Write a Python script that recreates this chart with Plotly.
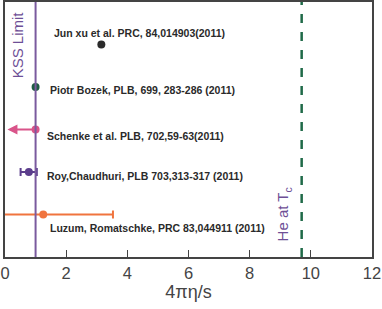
import plotly.graph_objects as go

# Data
labels = ["Jun xu et al. PRC, 84,014903(2011)",
          "Piotr Bozek, PLB, 699, 283-286 (2011)",
          "Schenke et al. PLB, 702,59-63(2011)",
          "Roy,Chaudhuri, PLB 703,313-317 (2011)",
          "Luzum, Romatschke, PRC 83,044911 (2011)"]
eta_s = [3.15, 1.0, 1.0, 0.78, 1.25]
ypos = [5, 4, 3, 2, 1]
err_plus = [0, 0, 0, 0.26, 2.28]
err_minus = [0, 0, 0, 0.27, 1.6]
colors = ["#2b2b2b", "#1f5a44", "#d9548a", "#5b3d8c", "#f0743e"]
kss_limit = 1.0
he_tc = 9.7
schenke_upper_limit_end = 0.08
x_ticks = [0, 2, 4, 6, 8, 10, 12]

FONT = "Liberation Sans, Arial, Helvetica"

fig = go.Figure()

# KSS vertical line
fig.add_shape(type="line", x0=kss_limit, x1=kss_limit, y0=0, y1=1, xref="x", yref="paper",
              line=dict(color="#7a5a9e", width=2))
# He at Tc dashed line
fig.add_shape(type="line", x0=he_tc, x1=he_tc, y0=0, y1=1, xref="x", yref="paper",
              line=dict(color="#1f6a48", width=2.5, dash="dash"))

for i in range(len(labels)):
    has_err = err_plus[i] > 0
    fig.add_trace(go.Scatter(
        x=[eta_s[i]], y=[ypos[i]], mode="markers",
        marker=dict(color=colors[i], size=8),
        error_x=dict(type="data", symmetric=False, array=[err_plus[i]],
                     arrayminus=[err_minus[i]], color=colors[i], thickness=2,
                     width=4, visible=has_err),
        showlegend=False, cliponaxis=True))

# Schenke upper-limit arrow
fig.add_annotation(x=schenke_upper_limit_end, y=ypos[2], ax=eta_s[2], ay=ypos[2],
                   xref="x", yref="y", axref="x", ayref="y", text="",
                   showarrow=True, arrowhead=2, arrowsize=1, arrowwidth=2,
                   arrowcolor=colors[2])

label_pos = [(1.53, 5.27), (1.40, 3.93), (1.30, 2.85), (1.30, 1.91), (1.40, 0.68)]
for lab, (lx, ly) in zip(labels, label_pos):
    fig.add_annotation(x=lx, y=ly, xref="x", yref="y", text="<b>" + lab + "</b>",
                       showarrow=False, xanchor="left", yanchor="middle",
                       font=dict(family=FONT, size=10.5, color="#2a2a2a"))

fig.add_annotation(x=0.42, y=5.0, xref="x", yref="y", text="KSS Limit", textangle=-90,
                   showarrow=False, font=dict(family=FONT, size=15, color="#6e4f96"))
fig.add_annotation(x=9.12, y=1.0, xref="x", yref="y", text="He at T<sub>c</sub>", textangle=-90,
                   showarrow=False, font=dict(family=FONT, size=15, color="#6e4f96"))

fig.update_xaxes(range=[0, 12], tickvals=x_ticks, ticks="inside", ticklen=7, tickwidth=1,
                 tickcolor="#444", showgrid=False, zeroline=False, showline=True,
                 linecolor="#444", linewidth=1.5, mirror=True, automargin=False,
                 tickfont=dict(family=FONT, size=16.5, color="#444"),
                 title=dict(text="4πη/s", standoff=2,
                            font=dict(family=FONT, size=18, color="#444")))
fig.update_yaxes(range=[0, 6], showticklabels=False, ticks="", showgrid=False, zeroline=False,
                 showline=True, linecolor="#444", linewidth=1.5, mirror=True, automargin=False)

fig.update_layout(width=382, height=309, margin=dict(l=5, r=10, t=2, b=52),
                  plot_bgcolor="white", paper_bgcolor="white")

fig.write_html("out.html", config={"displayModeBar": False},
               post_script="document.body.style.margin='0';document.body.style.overflow='hidden';")
